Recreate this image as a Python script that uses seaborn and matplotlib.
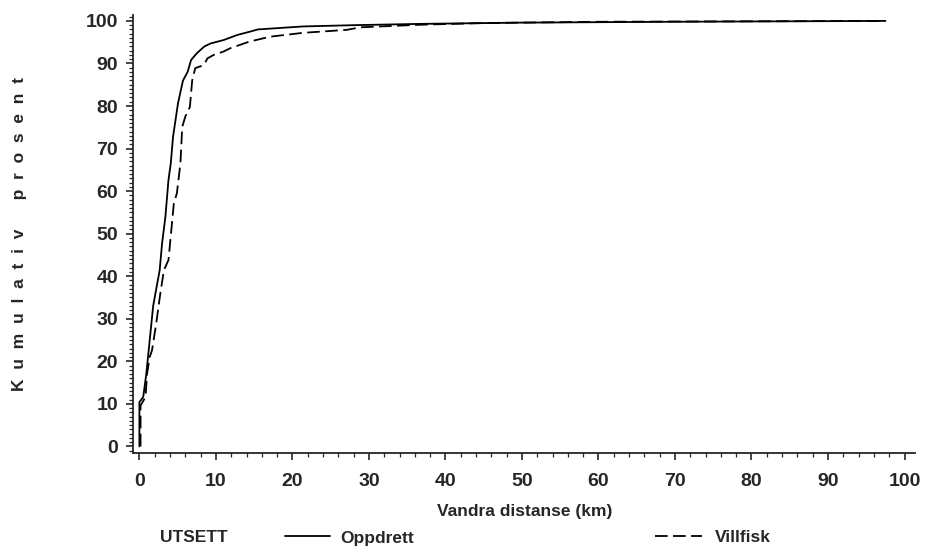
import matplotlib
matplotlib.use("Agg")
import matplotlib.pyplot as plt
from matplotlib.lines import Line2D
from matplotlib.ticker import MultipleLocator
import pandas as pd
import seaborn as sns

# kumulativ prosent vs vandra distanse, lest av figuren
opp_x = [0, 0, 0.5, 0.9, 1.8, 2.0, 2.65, 2.97, 3.4, 3.8, 4.1, 4.4, 5.05, 5.7, 6.3,
         6.75, 7.5, 8.5, 9.3, 11.0, 12.8, 14.5, 15.5, 21.4, 28, 36.7, 50, 70, 97.5]
opp_y = [0, 10.4, 11.6, 17, 33, 35, 41.4, 47.8, 54, 62.6, 66.5, 72.8, 80.7, 86, 88,
         90.8, 92.4, 94, 94.7, 95.5, 96.7, 97.5, 98, 98.7, 99, 99.3, 99.6, 99.8, 100]

vill_x = [0.15, 0.15, 0.8, 1.0, 1.35, 1.65, 2.2, 2.7, 3.2, 3.8, 4.05, 4.5, 4.9, 5.36,
          5.6, 6.0, 6.6, 6.9, 7.3, 8.4, 8.9, 9.7, 11.0, 11.9, 13.2, 14.3, 17.1, 21.4,
          27.1, 28.9, 36.7, 45, 60, 97.5]
vill_y = [0, 9.6, 11.6, 17, 21, 22.6, 28.9, 35.5, 41.4, 43.8, 48.5, 57.1, 59.5, 66.5,
          75.1, 77.5, 79.8, 86, 88.9, 89.6, 91.2, 92, 92.8, 93.6, 94.4, 95.1, 96.3, 97.2,
          97.9, 98.5, 99.1, 99.5, 99.8, 100]

groups = ["Oppdrett", "Villfisk"]
x_ticks = list(range(0, 101, 10))
y_ticks = list(range(0, 101, 10))

df_opp = pd.DataFrame({"dist": opp_x, "pct": opp_y})
df_vill = pd.DataFrame({"dist": vill_x, "pct": vill_y})

sns.set_style("ticks")
plt.rcParams["font.family"] = ["Liberation Sans", "DejaVu Sans"]

DASH = (0, (7, 3))

fig = plt.figure(figsize=(9.32, 5.54), dpi=100)
ax = fig.add_axes([0.143, 0.182, 0.839, 0.791])

sns.lineplot(data=df_opp, x="dist", y="pct", ax=ax, color="black", lw=1.3,
             estimator=None, sort=False)
sns.lineplot(data=df_vill, x="dist", y="pct", ax=ax, color="black", lw=1.3,
             estimator=None, sort=False, dashes=False, linestyle=DASH)

ax.set_xlim(-0.8, 101.4)
ax.set_ylim(-1.6, 101.4)
ax.set_xticks(x_ticks)
ax.set_yticks(y_ticks)
ax.xaxis.set_minor_locator(MultipleLocator(2))
ax.yaxis.set_minor_locator(MultipleLocator(1))
ax.tick_params(which="major", length=5, width=1.2, direction="out", labelsize=14)
ax.tick_params(axis="x", which="major", pad=9)
ax.tick_params(axis="y", which="major", pad=6)
ax.tick_params(which="minor", length=3, width=0.9, direction="out")
for lbl in ax.get_xticklabels() + ax.get_yticklabels():
    lbl.set_fontweight("bold")
sns.despine(ax=ax)
for s in ["left", "bottom"]:
    ax.spines[s].set_linewidth(1.3)

ax.set_xlabel("Vandra distanse (km)", fontsize=12.5, fontweight="bold", labelpad=10)
ax.set_ylabel("K  u  m  u  l  a  t  i  v      p  r  o  s  e  n  t", fontsize=12.5,
              fontweight="bold", labelpad=42)

# legend row at the bottom, placed by hand like the original
leg_y = 16 / 554
fig.text(160 / 932, leg_y, "UTSETT", fontsize=12.5, fontweight="bold", va="center")
fig.add_artist(Line2D([285 / 932, 330 / 932], [leg_y + 0.004] * 2, color="black", lw=1.3))
fig.text(340 / 932, leg_y, groups[0], fontsize=12.5, fontweight="bold", va="center")
fig.add_artist(Line2D([655 / 932, 702 / 932], [leg_y + 0.004] * 2, color="black", lw=1.3,
                      linestyle=DASH))
fig.text(715 / 932, leg_y, groups[1], fontsize=12.5, fontweight="bold", va="center")

fig.savefig("out.png", dpi=100)
